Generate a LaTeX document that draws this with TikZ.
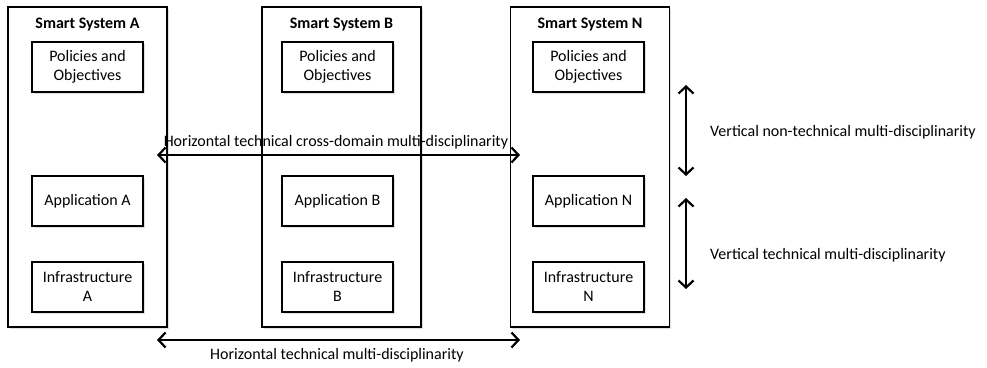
\documentclass[tikz,border=0pt]{standalone}
\usepackage{fontspec}
\setmainfont{Carlito}
\usetikzlibrary{arrows.meta,shadows}
\tikzset{
  outerbox/.style={draw=black, line width=1.4pt, fill=white, minimum width=159pt, minimum height=320pt, inner sep=0pt,
    drop shadow={opacity=0.25, shadow xshift=1.5pt, shadow yshift=-1.5pt}},
  innerbox/.style={draw=black, line width=1.6pt, fill=white, minimum width=111pt, minimum height=50pt, inner sep=0pt,
    align=center, font=\fontsize{16}{19}\selectfont,
    drop shadow={opacity=0.25, shadow xshift=1.5pt, shadow yshift=-1.5pt}},
  titletext/.style={font=\fontsize{16}{19}\selectfont\bfseries, inner sep=0pt},
  labeltext/.style={font=\fontsize{16}{19}\selectfont, inner sep=0pt},
  dbl/.style={line width=2pt, {Straight Barb[length=7pt,width=15pt,line width=2.2pt]}-{Straight Barb[length=7pt,width=15pt,line width=2.2pt]}}
}
\begin{document}
\begin{tikzpicture}[x=1pt,y=-1pt]
\useasboundingbox (0,0) rectangle (987,367);
% outer boxes
\node[outerbox] (sysA) at (87.5,167) {};
\node[outerbox] (sysB) at (341.5,167) {};
\node[outerbox] (sysN) at (590,167) {};
% titles
\node[titletext] (tA) at (87.5,25) {Smart System A};
\node[titletext] (tB) at (341.5,25) {Smart System B};
\node[titletext] (tN) at (590,25) {Smart System N};
% inner boxes
\node[innerbox] (polA) at (87.5,67) {Policies and\\Objectives};
\node[innerbox] (polB) at (337.5,67) {Policies and\\Objectives};
\node[innerbox] (polN) at (588.5,67) {Policies and\\Objectives};
\node[innerbox] (appA) at (87.5,201) {Application A};
\node[innerbox] (appB) at (337.5,201) {Application B};
\node[innerbox] (appN) at (588.5,201) {Application N};
\node[innerbox] (infA) at (87.5,287) {Infrastructure\\A};
\node[innerbox] (infB) at (337.5,287) {Infrastructure\\B};
\node[innerbox] (infN) at (588.5,287) {Infrastructure\\N};
% arrow end points
\coordinate (h1l) at (157,155);
\coordinate (h1r) at (520,155);
\coordinate (h2l) at (157,340);
\coordinate (h2r) at (520,340);
\coordinate (v1t) at (686,85);
\coordinate (v1b) at (686,176);
\coordinate (v2t) at (686,198);
\coordinate (v2b) at (686,289);
% arrows
\draw[dbl] (h1l) -- (h1r);
\draw[dbl] (h2l) -- (h2r);
\draw[dbl] (v1t) -- (v1b);
\draw[dbl] (v2t) -- (v2b);
% labels
\node[labeltext] (lh1) at (336,142) {Horizontal technical cross-domain multi-disciplinarity};
\node[labeltext] (lh2) at (337,355) {Horizontal technical multi-disciplinarity};
\node[labeltext, anchor=west] (lv1) at (710,132) {Vertical non-technical multi-disciplinarity};
\node[labeltext, anchor=west] (lv2) at (710,255) {Vertical technical multi-disciplinarity};
\end{tikzpicture}
\end{document}
